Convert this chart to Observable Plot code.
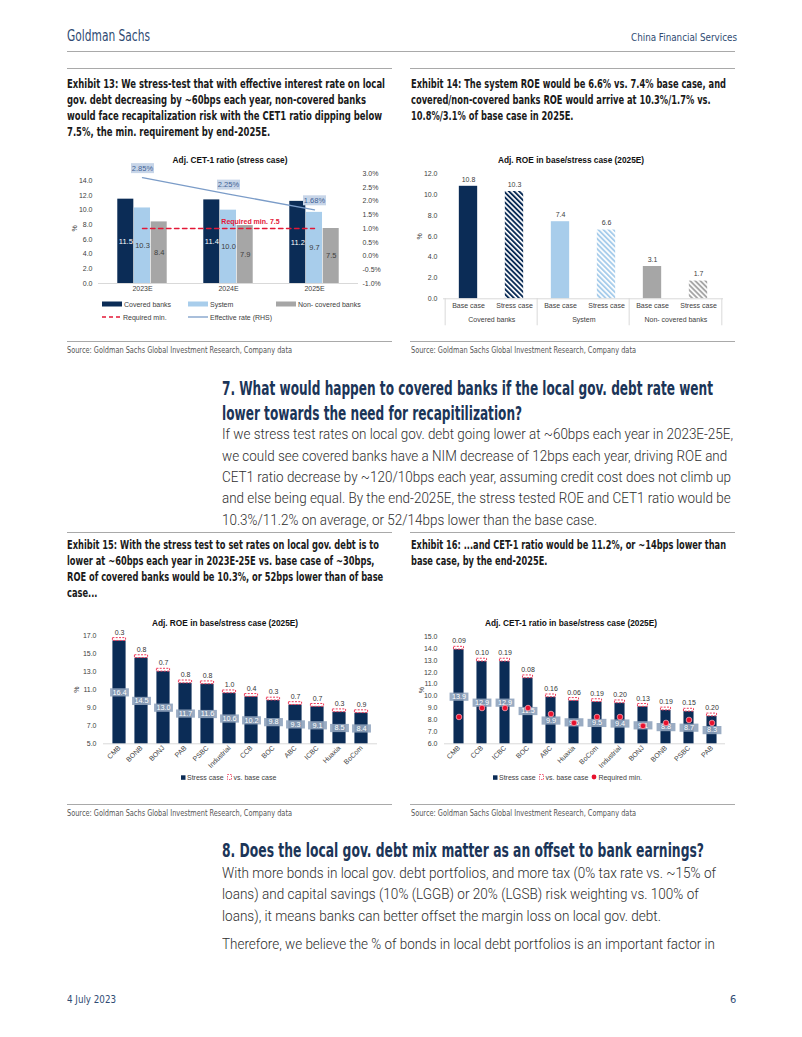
<!DOCTYPE html>
<html><head><meta charset="utf-8">
<script src="https://cdn.jsdelivr.net/npm/d3@7"></script>
<script src="https://cdn.jsdelivr.net/npm/@observablehq/plot@0.6"></script>
<style>
body{margin:0;background:#fff;}
#page{position:relative;width:802px;height:1037px;overflow:hidden;background:#fff;font-family:"Liberation Sans Narrow","DejaVu Sans Condensed",sans-serif;}
.t{position:absolute;white-space:nowrap;transform-origin:0 0;}
.rule{position:absolute;height:0;border-top:1.5px solid #a9a9a9;}
.ext{font-weight:bold;font-size:12.5px;line-height:16px;color:#1a1a1a;}
.src{font-size:8px;line-height:10px;color:#555;}
.h2{font-weight:bold;font-size:20px;line-height:25px;color:#1b3558;}
.body{font-family:Roboto,"DejaVu Sans Condensed",sans-serif;font-weight:300;font-size:15.5px;line-height:21.3px;color:#2e2e2e;}
.ctitle{position:absolute;font-family:"Liberation Sans",Arial,sans-serif;font-weight:bold;font-size:8.3px;line-height:10px;color:#111;text-align:center;}
.leg{position:absolute;font-family:"Liberation Sans",Arial,sans-serif;font-size:7px;line-height:9px;color:#404040;white-space:nowrap;display:flex;align-items:center;}
.leg svg{margin-right:1px;}
.legrow{position:absolute;display:flex;align-items:center;gap:3px;}
.legrow .leg{position:static;}
</style></head>
<body>
<svg width="0" height="0" style="position:absolute">
<defs>
<pattern id="hatchNavy" patternUnits="userSpaceOnUse" width="3.6" height="3.6" patternTransform="rotate(-45)"><rect width="3.6" height="3.6" fill="#fff"/><rect width="1.9" height="3.6" fill="#0b2c56"/></pattern>
<pattern id="hatchBlue" patternUnits="userSpaceOnUse" width="3.6" height="3.6" patternTransform="rotate(-45)"><rect width="3.6" height="3.6" fill="#fff"/><rect width="1.9" height="3.6" fill="#a8cdeb"/></pattern>
<pattern id="hatchGray" patternUnits="userSpaceOnUse" width="3.6" height="3.6" patternTransform="rotate(-45)"><rect width="3.6" height="3.6" fill="#fff"/><rect width="1.9" height="3.6" fill="#a6a6a6"/></pattern>
</defs></svg>
<div id="page">
  <div class="t" data-w="83" style="left:67px;top:27px;font-size:15px;line-height:18px;color:#2f4b73;"><span>Goldman Sachs</span></div>
  <div class="t" data-w="106" style="left:631px;top:31px;font-size:11px;line-height:14px;color:#2f4b73;"><span>China Financial Services</span></div>
  <div class="rule" style="left:67px;top:51px;width:668px;"></div>

  <div class="rule" style="left:67px;top:68px;width:325px;"></div>
  <div class="rule" style="left:410px;top:68px;width:325px;"></div>
  <div class="t ext" data-w="318" style="left:67px;top:76px;"><span>Exhibit 13: We stress-test that with effective interest rate on local</span><br><span>gov. debt decreasing by ~60bps each year, non-covered banks</span><br><span>would face recapitalization risk with the CET1 ratio dipping below</span><br><span>7.5%, the min. requirement by end-2025E.</span></div>
  <div class="t ext" data-w="315" style="left:411px;top:76px;"><span>Exhibit 14: The system ROE would be 6.6% vs. 7.4% base case, and</span><br><span>covered/non-covered banks ROE would arrive at 10.3%/1.7% vs.</span><br><span>10.8%/3.1% of base case in 2025E.</span></div>

  <div class="ctitle" style="left:60px;top:155px;width:340px;">Adj. CET-1 ratio (stress case)</div>
  <div class="ctitle" style="left:405px;top:155px;width:332px;">Adj. ROE in base/stress case (2025E)</div>

  <div class="rule" style="left:67px;top:341px;width:325px;"></div>
  <div class="rule" style="left:410px;top:341px;width:325px;"></div>
  <div class="t src" data-w="225" style="left:67px;top:346px;"><span>Source: Goldman Sachs Global Investment Research, Company data</span></div>
  <div class="t src" data-w="225" style="left:411px;top:346px;"><span>Source: Goldman Sachs Global Investment Research, Company data</span></div>

  <div class="t h2" data-w="491" style="left:222px;top:375.5px;"><span>7. What would happen to covered banks if the local gov. debt rate went</span><br><span>lower towards the need for recapitilization?</span></div>
  <div class="t body" data-w="511" style="left:222px;top:424.4px;"><span>If we stress test rates on local gov. debt going lower at ~60bps each year in 2023E-25E,</span><br><span>we could see covered banks have a NIM decrease of 12bps each year, driving ROE and</span><br><span>CET1 ratio decrease by ~120/10bps each year, assuming credit cost does not climb up</span><br><span>and else being equal. By the end-2025E, the stress tested ROE and CET1 ratio would be</span><br><span>10.3%/11.2% on average, or 52/14bps lower than the base case.</span></div>

  <div class="rule" style="left:67px;top:532px;width:325px;"></div>
  <div class="rule" style="left:410px;top:532px;width:325px;"></div>
  <div class="t ext" data-w="312" style="left:67px;top:537px;"><span>Exhibit 15: With the stress test to set rates on local gov. debt is to</span><br><span>lower at ~60bps each year in 2023E-25E vs. base case of ~30bps,</span><br><span>ROE of covered banks would be 10.3%, or 52bps lower than of base</span><br><span>case...</span></div>
  <div class="t ext" data-w="315" style="left:411px;top:537px;"><span>Exhibit 16: ...and CET-1 ratio would be 11.2%, or ~14bps lower than</span><br><span>base case, by the end-2025E.</span></div>

  <div class="ctitle" style="left:60px;top:618px;width:330px;">Adj. ROE in base/stress case (2025E)</div>
  <div class="ctitle" style="left:405px;top:618px;width:332px;">Adj. CET-1 ratio in base/stress case (2025E)</div>

  <div class="rule" style="left:67px;top:804px;width:325px;"></div>
  <div class="rule" style="left:410px;top:804px;width:325px;"></div>
  <div class="t src" data-w="225" style="left:67px;top:809px;"><span>Source: Goldman Sachs Global Investment Research, Company data</span></div>
  <div class="t src" data-w="225" style="left:411px;top:809px;"><span>Source: Goldman Sachs Global Investment Research, Company data</span></div>

  <div class="t h2" data-w="482" style="left:222px;top:837.5px;"><span>8. Does the local gov. debt mix matter as an offset to bank earnings?</span></div>
  <div class="t body" data-w="494" style="left:222px;top:863px;"><span>With more bonds in local gov. debt portfolios, and more tax (0% tax rate vs. ~15% of</span><br><span>loans) and capital savings (10% (LGGB) or 20% (LGSB) risk weighting vs. 100% of</span><br><span>loans), it means banks can better offset the margin loss on local gov. debt.</span></div>
  <div class="t body" data-w="493" style="left:222px;top:934px;"><span>Therefore, we believe the % of bonds in local debt portfolios is an important factor in</span></div>

  <div class="t" data-w="49" style="left:67px;top:993px;font-size:11px;line-height:14px;color:#2f4b73;"><span>4 July 2023</span></div>
  <div class="t" style="left:730px;top:993px;font-size:11px;line-height:14px;color:#2f4b73;"><span>6</span></div>
</div>
<script>
// ---------- data ----------
const years = ["2023E", "2024E", "2025E"];
const cet1Covered = [11.5, 11.4, 11.2];
const cet1System = [10.3, 10.0, 9.7];
const cet1NonCovered = [8.4, 7.9, 7.5];
const effectiveRate = [2.85, 2.25, 1.68];
const requiredMin13 = 7.5;

const roeGroups = ["Covered banks", "System", "Non- covered banks"];
const roeCases = ["Base case", "Stress case"];
const roeBase = [10.8, 7.4, 3.1];
const roeStress = [10.3, 6.6, 1.7];

const banks15 = ["CMB", "BONB", "BONJ", "PAB", "PSBC", "Industrial", "CCB", "BOC", "ABC", "ICBC", "Huaxia", "BoCom"];
const roeStress15 = [16.4, 14.5, 13.0, 11.7, 11.6, 10.6, 10.2, 9.8, 9.3, 9.1, 8.5, 8.4];
const roeDelta15 = [0.3, 0.8, 0.7, 0.8, 0.8, 1.0, 0.4, 0.3, 0.7, 0.7, 0.3, 0.9];

const banks16 = ["CMB", "CCB", "ICBC", "BOC", "ABC", "Huaxia", "BoCom", "Industrial", "BONJ", "BONB", "PSBC", "PAB"];
const cetStress16 = [13.9, 12.9, 12.9, 11.5, 9.9, 9.6, 9.5, 9.4, 9.1, 8.8, 8.7, 8.3];
const cetDelta16 = [0.09, 0.10, 0.19, 0.08, 0.16, 0.06, 0.19, 0.20, 0.13, 0.19, 0.15, 0.20];
const cetRequired16 = [8.25, 9.0, 9.0, 9.0, 8.5, 7.75, 8.25, 8.25, 7.5, 7.75, 8.0, 7.75];

// ---------- fit condensed text lines to the page's column widths ----------
document.querySelectorAll(".t[data-w]").forEach(el => {
  const first = el.querySelector("span");
  const natural = first.getBoundingClientRect().width;
  const k = +el.dataset.w / natural;
  el.style.transform = `scaleX(${k})`;
});

// ---------- styles ----------
const NAVY = "#0b2c56", LBLUE = "#a8cdeb", GRAY = "#a6a6a6", RED = "#e31837", LINEBLUE = "#7b9cc8";
const CFONT = "'Liberation Sans', Arial, Helvetica, sans-serif";
const baseStyle = {fontFamily: CFONT, fontSize: "7px", color: "#404040", background: "transparent", overflow: "visible"};
const page = document.getElementById("page");
function place(node, left, top) {
  node.style.position = "absolute";
  node.style.left = left + "px";
  node.style.top = top + "px";
  page.appendChild(node);
}
function legItem(swatch, text) {
  return `<div class="leg">${swatch}<span>${text}</span></div>`;
}
function legend(left, top, swatch, text) {
  const d = document.createElement("div");
  d.className = "leg";
  d.style.left = left + "px";
  d.style.top = top + "px";
  d.innerHTML = swatch + "<span>" + text + "</span>";
  page.appendChild(d);
}
function legendRow(left, top, items, gap) {
  const d = document.createElement("div");
  d.className = "legrow";
  d.style.left = left + "px";
  d.style.top = top + "px";
  d.style.gap = gap + "px";
  d.innerHTML = items.join("");
  page.appendChild(d);
}
// rectangular label box symbol for Plot.dot
const boxSymbol = {draw(ctx, size) { const r = Math.sqrt(size / Math.PI); const w = r * 4.6, h = r * 2; ctx.rect(-w / 2, -h / 2, w, h); }};

// ---------- Exhibit 13 ----------
{
  const W = 340, H = 135, mL = 38, mR = 42, mT = 8, mB = 17;
  const bw = (W - mL - mR) / years.length, barW = 16.7, g = (bw - 3 * barW) / 2;
  const series = [
    {vals: cet1Covered, fill: NAVY, text: "#ffffff"},
    {vals: cet1System, fill: LBLUE, text: "#404040"},
    {vals: cet1NonCovered, fill: GRAY, text: "#404040"}
  ];
  const marks = [Plot.ruleY([0], {stroke: "#d9d9d9"})];
  series.forEach((s, k) => {
    const data = years.map((y, i) => ({year: y, v: s.vals[i]}));
    const il = g + k * barW, ir = bw - il - barW;
    marks.push(Plot.barY(data, {x: "year", y: "v", fill: s.fill, insetLeft: il, insetRight: ir}));
    marks.push(Plot.text(data, {x: "year", y: d => d.v / 2, text: d => d.v.toFixed(1), fill: s.text, fontSize: 7.5, dx: il + barW / 2 - bw / 2}));
  });
  const req = years.map(y => ({year: y, v: requiredMin13}));
  marks.push(Plot.lineY(req, {x: "year", y: "v", stroke: RED, strokeWidth: 1.4, strokeDasharray: "4.5,3.5"}));
  marks.push(Plot.text([req[1]], {x: "year", y: "v", text: d => "Required min. " + d.v, fill: RED, fontWeight: "bold", fontSize: 7, dx: 22, dy: -7}));
  const p = Plot.plot({
    width: W, height: H, marginLeft: mL, marginRight: mR, marginTop: mT, marginBottom: mB,
    style: baseStyle,
    x: {type: "band", domain: years, padding: 0, tickSize: 0, tickPadding: 3, label: null},
    y: {domain: [0, 15], ticks: d3.range(0, 15, 2), tickFormat: d => d.toFixed(1), tickSize: 0, tickPadding: 6, label: "%", labelAnchor: "center", labelArrow: false, labelOffset: 26},
    marks
  });
  place(p, 60, 165);
  const rate = years.map((y, i) => ({year: y, v: effectiveRate[i]}));
  const o = Plot.plot({
    width: W, height: H, marginLeft: mL, marginRight: mR, marginTop: mT, marginBottom: mB,
    style: baseStyle,
    x: {type: "band", domain: years, padding: 0, axis: null},
    y: {domain: [-1, 3], ticks: d3.range(-1, 3.01, 0.5), tickFormat: d => d.toFixed(1) + "%", axis: "right", tickSize: 0, tickPadding: 4, label: null},
    marks: [
      Plot.lineY(rate, {x: "year", y: "v", stroke: LINEBLUE, strokeWidth: 1.3}),
      Plot.dot(rate, {x: "year", y: "v", symbol: boxSymbol, r: 5, fill: "#c7d5e8", dy: -9.5}),
      Plot.text(rate, {x: "year", y: "v", text: d => d.v.toFixed(2) + "%", fill: "#3f6296", fontSize: 7.5, dy: -9.5})
    ]
  });
  place(o, 60, 165);
  legend(102, 299.5, `<svg width="21" height="6"><rect width="20" height="5" y="0.5" fill="${NAVY}"/></svg>`, "Covered banks");
  legend(188, 299.5, `<svg width="21" height="6"><rect width="20" height="5" y="0.5" fill="${LBLUE}"/></svg>`, "System");
  legend(276, 299.5, `<svg width="21" height="6"><rect width="20" height="5" y="0.5" fill="${GRAY}"/></svg>`, "Non- covered banks");
  legend(102, 312.5, `<svg width="20" height="6"><line x1="0" x2="19" y1="3" y2="3" stroke="${RED}" stroke-width="1.4" stroke-dasharray="4,3"/></svg>`, "Required min.");
  legend(188, 312.5, `<svg width="21" height="6"><line x1="0" x2="20" y1="3" y2="3" stroke="${LINEBLUE}" stroke-width="1.3"/></svg>`, "Effective rate (RHS)");
}

// ---------- Exhibit 14 ----------
{
  const W = 340, H = 165, mL = 38, mR = 22, mT = 8.3, mB = 31.7;
  const keys = roeGroups.flatMap(g => roeCases.map(c => g + "|" + c));
  const bw = (W - mL - mR) / keys.length, barW = 19, ins = (bw - barW) / 2;
  const fills = [NAVY, LBLUE, GRAY];
  const hatches = ["url(#hatchNavy)", "url(#hatchBlue)", "url(#hatchGray)"];
  const marks = [];
  roeGroups.forEach((g, i) => {
    const base = [{key: g + "|" + roeCases[0], v: roeBase[i]}];
    const stress = [{key: g + "|" + roeCases[1], v: roeStress[i]}];
    marks.push(Plot.barY(base, {x: "key", y: "v", fill: fills[i], insetLeft: ins, insetRight: ins}));
    marks.push(Plot.barY(stress, {x: "key", y: "v", fill: hatches[i], insetLeft: ins, insetRight: ins}));
    marks.push(Plot.text(base.concat(stress), {x: "key", y: "v", text: d => d.v.toFixed(1), dy: -7, fill: "#404040", fontSize: 7}));
  });
  marks.push(Plot.ruleY([0], {stroke: "#d9d9d9"}));
  const groupRows = roeGroups.map(g => ({key: g + "|" + roeCases[0], label: g, v: 0}));
  marks.push(Plot.text(groupRows, {x: "key", y: "v", text: "label", dx: bw / 2, dy: 21, fill: "#404040", fontSize: 7}));
  marks.push(Plot.ruleX(groupRows, {x: "key", y1: "v", y2: "v", dx: -bw / 2, insetBottom: -27, stroke: "#d9d9d9"}));
  marks.push(Plot.ruleX([{key: keys[keys.length - 1], v: 0}], {x: "key", y1: "v", y2: "v", dx: bw / 2, insetBottom: -27, stroke: "#d9d9d9"}));
  const p = Plot.plot({
    width: W, height: H, marginLeft: mL, marginRight: mR, marginTop: mT, marginBottom: mB,
    style: baseStyle,
    x: {domain: keys, padding: 0, tickSize: 0, tickPadding: 4, tickFormat: k => k.split("|")[1], label: null},
    y: {domain: [0, 12], ticks: d3.range(0, 12.01, 2), tickFormat: d => d.toFixed(1), tickSize: 0, tickPadding: 6, label: "%", labelAnchor: "center", labelArrow: false, labelOffset: 26},
    marks
  });
  place(p, 405, 165);
}

// ---------- Exhibit 15 & 16 (shared builder) ----------
function bankChart({banks, stress, delta, req, left, W, mL, mR, mT, yDomain, yTicks, barW, deltaFmt, legendX}) {
  const H = 145, mB = 31.7;
  const bw = (W - mL - mR) / banks.length, ins = (bw - barW) / 2;
  const data = banks.map((b, i) => ({bank: b, v: stress[i], d: delta[i], r: req ? req[i] : null}));
  const marks = [
    Plot.ruleY([yDomain[0]], {stroke: "#d9d9d9"}),
    Plot.barY(data, {x: "bank", y: "v", fill: NAVY, insetLeft: ins, insetRight: ins}),
    Plot.barY(data, {x: "bank", y1: "v", y2: "v", fill: "none", stroke: "#ee3b5b", strokeWidth: 1, strokeDasharray: "2,1.3", insetLeft: ins, insetRight: ins, insetTop: -2.8}),
    Plot.text(data, {x: "bank", y: "v", text: d => deltaFmt(d.d), dy: -8.5, fill: "#333", fontSize: 7}),
    Plot.dot(data, {x: "bank", y: d => (yDomain[0] + d.v) / 2, symbol: boxSymbol, r: 4.1, fill: "#8fa3bc", fillOpacity: 0.9}),
    Plot.text(data, {x: "bank", y: d => (yDomain[0] + d.v) / 2, text: d => d.v.toFixed(1), fill: "#ffffff", fontSize: 7.3})
  ];
  if (req) marks.push(Plot.dot(data, {x: "bank", y: "r", r: 2.8, fill: "#e8112d", stroke: "#f7a3b1", strokeWidth: 0.8}));
  const p = Plot.plot({
    width: W, height: H, marginLeft: mL, marginRight: mR, marginTop: mT, marginBottom: mB,
    style: baseStyle,
    x: {domain: banks, padding: 0, tickSize: 0, tickPadding: 3, tickRotate: -45, label: null},
    y: {domain: yDomain, clamp: true, ticks: yTicks, tickFormat: d => d.toFixed(1), tickSize: 0, tickPadding: 7, label: "%", labelAnchor: "center", labelArrow: false, labelOffset: mL - 14},
    marks
  });
  place(p, left, 630);
  const navySq = `<svg width="5" height="5"><rect width="4.5" height="4.5" y="0.3" fill="${NAVY}"/></svg>`;
  const dashSq = `<svg width="6" height="6"><rect x="0.5" y="0.5" width="4" height="5" fill="none" stroke="#ee3b5b" stroke-width="0.8" stroke-dasharray="1.5,1"/></svg>`;
  const items = [legItem(navySq, "Stress case"), legItem(dashSq, "vs. base case")];
  if (req) items.push(legItem(`<svg width="6" height="6"><circle cx="3" cy="3" r="2.4" fill="#e8112d"/></svg>`, "Required min."));
  legendRow(legendX, 772.5, items, 3);
}
bankChart({banks: banks15, stress: roeStress15, delta: roeDelta15, req: null, left: 60, W: 340, mL: 43, mR: 23, mT: 5,
  yDomain: [5, 17], yTicks: d3.range(5, 17.01, 2), barW: 14, deltaFmt: d => d.toFixed(1), legendX: 181});
bankChart({banks: banks16, stress: cetStress16, delta: cetDelta16, req: cetRequired16, left: 405, W: 340, mL: 39, mR: 20, mT: 6,
  yDomain: [6, 15], yTicks: d3.range(6, 15.01, 1), barW: 10.5, deltaFmt: d => d.toFixed(2), legendX: 493});
</script>
</body></html>
